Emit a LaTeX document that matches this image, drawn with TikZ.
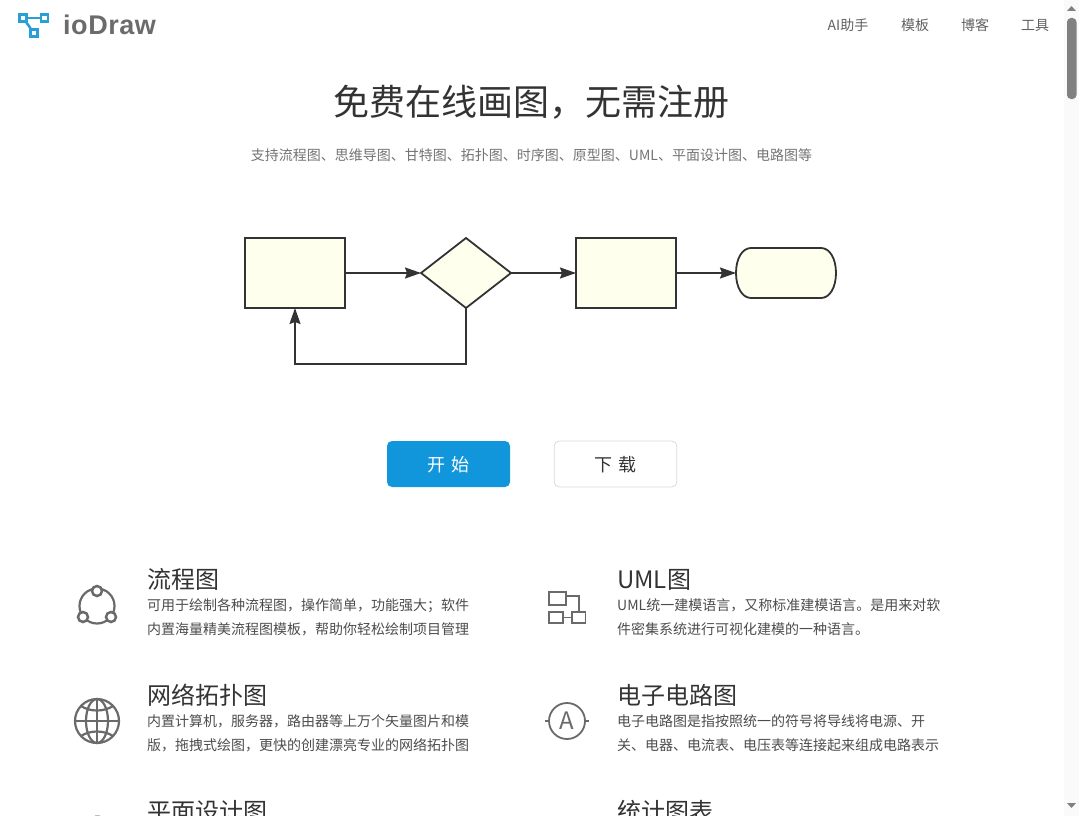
\documentclass[tikz,border=0pt]{standalone}
\usepackage{fontspec}
\setmainfont{Noto Sans CJK SC}
\newfontfamily\logofont[LetterSpace=2]{Liberation Sans}
\usetikzlibrary{arrows.meta,shapes.geometric}
\definecolor{boxfill}{HTML}{FFFFEE}
\definecolor{linedark}{HTML}{333333}
\definecolor{logoblue}{HTML}{2A9FD6}
\definecolor{btnblue}{HTML}{1296DB}
\definecolor{icongray}{HTML}{6A6A6A}
\tikzset{
  flowline/.style={draw=linedark,line width=1.8pt,outer sep=0pt},
  flowbox/.style={flowline,fill=boxfill,minimum width=100pt,minimum height=70pt,inner sep=0pt},
  flowdiamond/.style={flowline,fill=boxfill,diamond,aspect=1.2857,minimum width=90pt,minimum height=70pt,inner sep=0pt},
  flowend/.style={outer sep=0pt,minimum width=100pt,minimum height=50pt,inner sep=0pt},
  flowarrow/.style={draw=linedark,line width=1.8pt,-{Stealth[inset=2pt,length=16pt,width=11pt]}},
  menutext/.style={anchor=base,font=\fontsize{14}{14}\selectfont,text=black!62,inner sep=0pt},
  headtext/.style={anchor=base west,font=\fontsize{24}{24}\selectfont,text=linedark,inner sep=0pt},
  bodytext/.style={anchor=base west,font=\fontsize{14}{14}\selectfont,text=black!70,inner sep=0pt},
  btn/.style={rounded corners=5pt,minimum height=46pt,inner sep=0pt,text height=17pt,text depth=2.4pt,font=\fontsize{18}{18}\selectfont},
  iconline/.style={draw=icongray,line width=2.2pt},
  thinicon/.style={draw=icongray,line width=1.8pt},
  logobox/.style={draw=logoblue,line width=2.5pt,minimum size=7pt,inner sep=0pt},
}
\begin{document}
\begin{tikzpicture}[x=1pt,y=-1pt]
\useasboundingbox (0,0) rectangle (1079,816);
\clip (0,0) rectangle (1079,816);
\node [logobox] (logoa) at (23,18) {};
\node [logobox] (logob) at (44.5,18) {};
\node [logobox] (logoc) at (34,33) {};
\draw [logoblue,line width=2.5pt] (logoa) -- (logob);
\draw [logoblue,line width=2.5pt] (logoa) -- (logoc);
\node [anchor=base west,inner sep=0pt,text=black!58,font=\logofont\bfseries\fontsize{27}{27}\selectfont] (logotext) at (63,35) {ioDraw};
\node [menutext] (menua) at (848,31) {AI助手};
\node [menutext] (menub) at (915,31) {模板};
\node [menutext] (menuc) at (975,31) {博客};
\node [menutext] (menud) at (1035,31) {工具};
\node [anchor=base,inner sep=0pt,text=linedark,font=\fontsize{36}{36}\selectfont] (title) at (531.5,115) {免费在线画图，无需注册};
\node [menutext,text=black!55] (subtitle) at (531.5,160) {支持流程图、思维导图、甘特图、拓扑图、时序图、原型图、UML、平面设计图、电路图等};
\node [flowbox] (boxa) at (295,273) {};
\node [flowdiamond] (choice) at (466,273) {};
\node [flowbox] (boxb) at (626,273) {};
\node [flowend] (finish) at (786,273) {};
\draw [flowline,fill=boxfill] (751,248) -- (821,248) .. controls (830,248) and (836,259) .. (836,273) .. controls (836,287) and (830,298) .. (821,298) -- (751,298) .. controls (742,298) and (736,287) .. (736,273) .. controls (736,259) and (742,248) .. (751,248) -- cycle;
\draw [flowarrow] (boxa) -- (choice);
\draw [flowarrow] (choice) -- (boxb);
\draw [flowarrow] (boxb) -- (finish);
\draw [flowarrow] (choice.south) -- (466,364) -- (295,364) -- (boxa.south);
\node [btn,fill=btnblue,text=white,minimum width=123pt] (start) at (448.5,464) {开\hspace{6pt}始};
\node [btn,draw=black!15,line width=.8pt,text=linedark,minimum width=122.5pt] (download) at (615.5,464) {下\hspace{6pt}载};
\draw [iconline] (97,606) circle (17.5);
\foreach \px/\py/\pname in {97/591/flowa,83/617/flowb,111/617/flowc}
  \node [iconline,line width=2.5pt,fill=white,circle,minimum size=10pt,inner sep=0pt] (\pname) at (\px,\py) {};
\node [headtext] (heada) at (147,588) {流程图};
\node [bodytext] (bodyaa) at (147,610) {可用于绘制各种流程图，操作简单，功能强大；软件};
\node [bodytext] (bodyab) at (147,634) {内置海量精美流程图模板，帮助你轻松绘制项目管理};
\draw [iconline] (97,721) circle (22);
\draw [iconline] (97,721) ellipse (11 and 22);
\draw [iconline] (75,721) -- (119,721);
\draw [iconline] (97,699) -- (97,743);
\draw [iconline] (81,706) .. controls (90,712) and (104,712) .. (113,706);
\draw [iconline] (81,736) .. controls (90,730) and (104,730) .. (113,736);
\node [headtext] (headb) at (147,704) {网络拓扑图};
\node [bodytext] (bodyba) at (147,726) {内置计算机，服务器，路由器等上万个矢量图片和模};
\node [bodytext] (bodybb) at (147,750) {版，拖拽式绘图，更快的创建漂亮专业的网络拓扑图};
\fill [black!25] (95,814.5) rectangle (100,816);
\node [headtext] (headc) at (147,820) {平面设计图};
\node [thinicon,minimum width=16.5pt,minimum height=13.5pt,inner sep=0pt] (umla) at (557.5,598.5) {};
\node [thinicon,minimum width=13.5pt,minimum height=11.5pt,inner sep=0pt] (umlb) at (556,617.5) {};
\node [thinicon,minimum width=13.5pt,minimum height=11.5pt,inner sep=0pt] (umlc) at (578.7,617.5) {};
\draw [thinicon] (umla.east |- 0,596) -- (umlc.north |- 0,596) -- (umlc.north);
\draw [thinicon] (umlb) -- (umlc);
\node [headtext] (headd) at (617,588) {UML图};
\node [bodytext] (bodyda) at (617,610) {UML统一建模语言，又称标准建模语言。是用来对软};
\node [bodytext] (bodydb) at (617,634) {件密集系统进行可视化建模的一种语言。};
\node [thinicon,circle,minimum size=36pt,inner sep=0pt,text=icongray,font=\fontsize{24}{24}\selectfont] (meter) at (567,721) {A};
\coordinate (meterl) at (545,721);
\coordinate (meterr) at (589,721);
\draw [thinicon] (meterl) -- (meter);
\draw [thinicon] (meter) -- (meterr);
\node [headtext] (heade) at (617,704) {电子电路图};
\node [bodytext] (bodyea) at (617,726) {电子电路图是指按照统一的符号将导线将电源、开};
\node [bodytext] (bodyeb) at (617,750) {关、电器、电流表、电压表等连接起来组成电路表示};
\node [headtext] (headf) at (617,820) {统计图表};
\fill [black!2] (1064,0) rectangle (1079,816);
\fill [black!50,rounded corners=4pt] (1067,18) rectangle (1076.5,99);
\fill [black!50] (1067,11) -- (1076,11) -- (1071.5,6) -- cycle;
\fill [black!50] (1067,803) -- (1076,803) -- (1071.5,808) -- cycle;
\end{tikzpicture}
\end{document}
